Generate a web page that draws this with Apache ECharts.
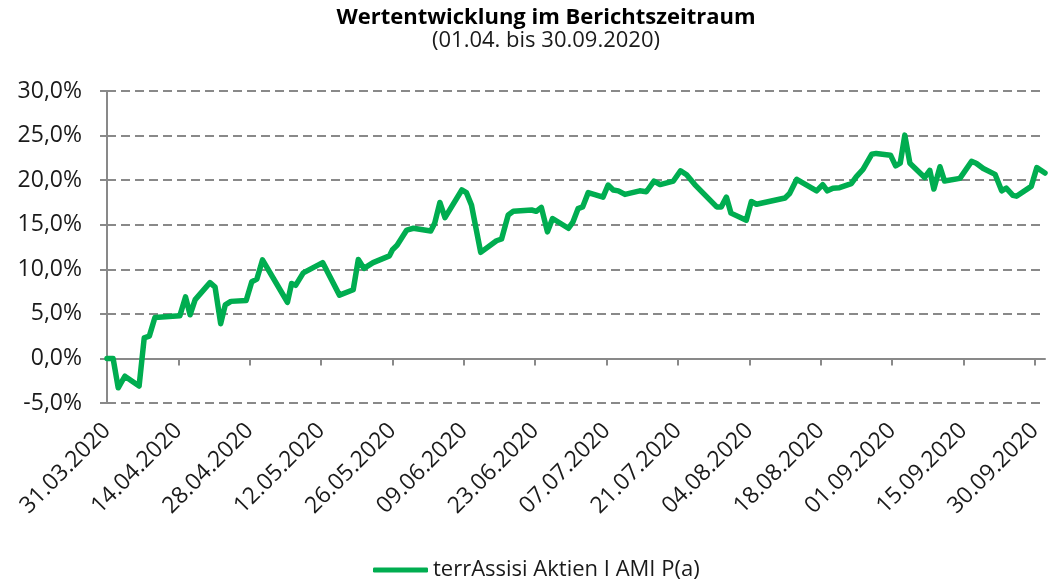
<!DOCTYPE html>
<html>
<head>
<meta charset="utf-8">
<title>Wertentwicklung im Berichtszeitraum</title>
<script src="https://cdn.jsdelivr.net/npm/echarts@6/dist/echarts.min.js"></script>
<style>
    html, body { margin: 0; padding: 0; background: #fff; }
    #chart { width: 1049px; height: 579px; }
</style>
</head>
<body>
<div id="chart"></div>
<script>
// Achsenbeschriftung (alle 14 Tage ab 31.03.2020)
const tickLabels = ['31.03.2020', '14.04.2020', '28.04.2020', '12.05.2020', '26.05.2020', '09.06.2020', '23.06.2020',
    '07.07.2020', '21.07.2020', '04.08.2020', '18.08.2020', '01.09.2020', '15.09.2020', '30.09.2020']
const tickDays = [0, 14, 28, 42, 56, 70, 84, 98, 112, 126, 140, 154, 168, 182]

// Tage seit 31.03.2020
const dayOffsets = [0, 1.2, 2.2, 3.5, 6.3, 7.3, 8.3, 9.4, 14.3, 15.4, 16.3, 17.3, 20.2, 21.2, 22.3, 23.2, 24.3, 27.3,
    28.4, 29.4, 30.5, 35.4, 36.2, 37.0, 38.5, 42.3, 45.6, 48.3, 49.3, 50.4, 52.2, 55.4, 56.0, 56.9, 58.8, 60.1,
    63.5, 64.3, 65.3, 66.3, 69.6, 70.5, 71.5, 73.3, 76.4, 77.4, 78.7, 79.7, 83.3, 84.2, 85.2, 86.4, 87.4, 90.5,
    91.4, 92.4, 93.3, 94.4, 97.3, 98.3, 99.3, 100.3, 101.6, 104.5, 105.8, 107.3, 108.5, 111.1, 112.5, 113.7,
    115.3, 119.6, 120.5, 121.5, 122.4, 125.4, 126.4, 127.4, 133.0, 133.9, 135.3, 139.2, 140.4, 141.3, 142.4,
    143.7, 146.0, 147.0, 148.3, 150.0, 150.9, 153.7, 154.7, 155.6, 156.5, 157.5, 160.4, 161.4, 162.2, 163.4,
    164.3, 167.3, 169.6, 170.5, 171.9, 174.2, 175.5, 176.4, 177.7, 178.4, 181.3, 182.4, 184]

// Wertentwicklung in %
const fundValues = [0.0, 0.0, -3.3, -2.0, -3.1, 2.3, 2.5, 4.6, 4.8, 6.9, 4.9, 6.6, 8.5, 8.0, 3.9, 6.0, 6.4, 6.5,
    8.6, 8.9, 11.05, 6.3, 8.4, 8.2, 9.6, 10.75, 7.1, 7.7, 11.1, 10.1, 10.75, 11.5, 12.2, 12.7, 14.4, 14.6,
    14.3, 15.2, 17.5, 15.8, 18.9, 18.6, 17.2, 11.9, 13.2, 13.4, 16.1, 16.5, 16.65, 16.5, 16.95, 14.2, 15.7, 14.6,
    15.3, 16.8, 17.0, 18.6, 18.1, 19.45, 18.9, 18.8, 18.4, 18.8, 18.7, 19.9, 19.5, 19.9, 21.05, 20.6,
    19.5, 17.0, 17.0, 18.1, 16.3, 15.5, 17.6, 17.3, 18.0, 18.5, 20.1, 18.8, 19.5, 18.8, 19.1,
    19.15, 19.6, 20.4, 21.2, 22.9, 23.0, 22.8, 21.6, 21.9, 25.05, 21.9, 20.3, 21.1, 19.0, 21.5,
    19.9, 20.2, 22.1, 21.9, 21.3, 20.65, 18.8, 19.1, 18.3, 18.2, 19.3, 21.4, 20.8]

const seriesName = 'terrAssisi Aktien I AMI P(a)'

const FONT = '"Open Sans", "Noto Sans", sans-serif'
const TEXT_COLOR = '#1a1a1a'
const AXIS_COLOR = '#898989'
const GREEN = '#00AD50'

const chart = echarts.init(document.getElementById('chart'), null, {renderer: 'canvas'})

const option = {
    animation: false,
    textStyle: {fontFamily: FONT, color: TEXT_COLOR},
    graphic: [
        {
            type: 'text', x: 546, y: 7,
            style: {text: 'Wertentwicklung im Berichtszeitraum', textAlign: 'center', fontFamily: FONT,
                fontSize: 22, fontWeight: 'bold', fill: '#000'}
        },
        {
            type: 'text', x: 546, y: 30,
            style: {text: '(01.04. bis 30.09.2020)', textAlign: 'center', fontFamily: FONT,
                fontSize: 22, fill: TEXT_COLOR}
        }
    ],
    legend: {
        left: 368,
        top: 554,
        icon: 'roundRect',
        itemWidth: 55,
        itemHeight: 5,
        textStyle: {fontFamily: FONT, fontSize: 22, color: TEXT_COLOR},
        data: [seriesName]
    },
    grid: {
        left: 107,
        right: 4,
        top: 91,
        bottom: 176
    },
    xAxis: [
        {
            // Nulllinie mit Teilstrichen
            type: 'value',
            min: 0,
            max: 184,
            interval: 14,
            axisLine: {onZero: true, lineStyle: {color: AXIS_COLOR, width: 2}},
            axisTick: {show: true, length: 7, customValues: tickDays, lineStyle: {color: AXIS_COLOR, width: 2}},
            axisLabel: {show: false},
            splitLine: {show: false}
        },
        {
            // Datumsbeschriftung unten
            type: 'value',
            position: 'bottom',
            min: 0,
            max: 184,
            interval: 14,
            axisLine: {show: false, onZero: false},
            axisTick: {show: false},
            splitLine: {show: false},
            axisLabel: {
                customValues: tickDays,
                rotate: 45,
                margin: 24,
                fontSize: 23,
                fontFamily: FONT,
                color: TEXT_COLOR,
                formatter: (v) => tickLabels[tickDays.indexOf(v)] || ''
            }
        }
    ],
    yAxis: {
        type: 'value',
        min: -5,
        max: 30,
        interval: 5,
        axisLine: {show: true, lineStyle: {color: AXIS_COLOR, width: 2}},
        axisTick: {show: true, length: 7, lineStyle: {color: AXIS_COLOR, width: 2}},
        axisLabel: {
            margin: 25,
            fontSize: 23,
            fontFamily: FONT,
            color: TEXT_COLOR,
            formatter: (v) => v.toFixed(1).replace('.', ',') + '%'
        },
        splitLine: {
            show: true,
            lineStyle: {color: AXIS_COLOR, width: 2, type: [9, 5]}
        }
    },
    series: [
        {
            name: seriesName,
            type: 'line',
            xAxisIndex: 0,
            data: dayOffsets.map((d, i) => [d, fundValues[i]]),
            symbol: 'none',
            lineStyle: {color: GREEN, width: 5.5, cap: 'round', join: 'round'},
            itemStyle: {color: GREEN}
        }
    ]
}

chart.setOption(option)
</script>
</body>
</html>
